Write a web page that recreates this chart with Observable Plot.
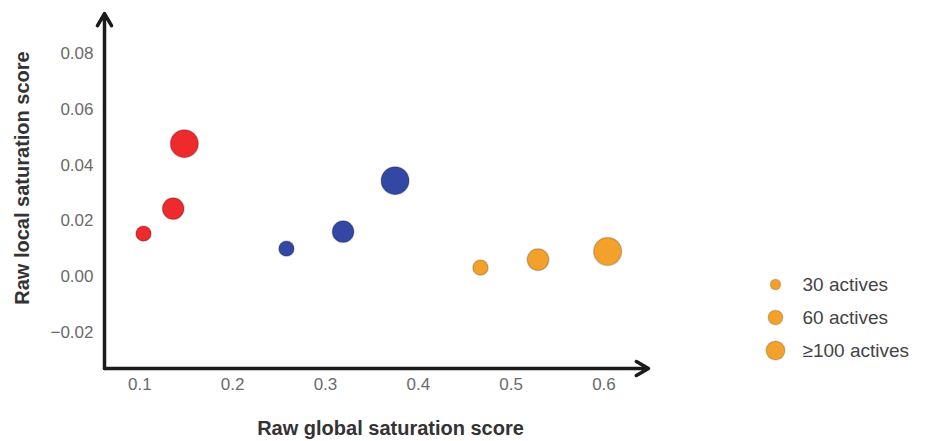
<!DOCTYPE html>
<html><head><meta charset="utf-8">
<script src="https://cdn.jsdelivr.net/npm/d3@7"></script>
<script src="https://cdn.jsdelivr.net/npm/@observablehq/plot@0.6"></script>
<style>
html,body{margin:0;padding:0;background:#fff;}
#chart{position:relative;width:926px;height:441px;font-family:"Liberation Sans",Arial,sans-serif;}
#legend{position:absolute;left:740px;top:265px;}
</style></head><body>
<div id="chart"><div id="main"></div><div id="legend"></div></div>
<script>
// ---- data ----
const groupNames = ["A", "B", "C"];
const fillColors = ["#ee2a2c", "#3347a4", "#f4a12b"];
const pointGroup = ["A", "A", "A", "B", "B", "B", "C", "C", "C"];
const globalScore = [0.104, 0.136, 0.148, 0.258, 0.319, 0.375, 0.467, 0.529, 0.604];
const localScore = [0.0154, 0.0244, 0.0477, 0.0100, 0.0161, 0.0344, 0.0032, 0.0061, 0.0090];
const actives = [30, 60, 100, 30, 60, 100, 30, 60, 100];
const xTicks = [0.1, 0.2, 0.3, 0.4, 0.5, 0.6];
const yTicks = [-0.02, 0, 0.02, 0.04, 0.06, 0.08];
const xDomain = [0.062, 0.648];
const yDomain = [-0.033, 0.0944];
const legendLabels = ["30 actives", "60 actives", "\u2265100 actives"];
const legendActives = [30, 60, 100];
const xTitle = "Raw global saturation score";
const yTitle = "Raw local saturation score";

const points = globalScore.map((g, i) => ({group: pointGroup[i], global: g, local: localScore[i], actives: actives[i]}));
const axesLines = [
  {x1: xDomain[0], y1: yDomain[0], x2: xDomain[1], y2: yDomain[0]},
  {x1: xDomain[0], y1: yDomain[0], x2: xDomain[0], y2: yDomain[1]}
];
const font = "'Liberation Sans', Arial, sans-serif";

const main = Plot.plot({
  width: 926, height: 441,
  marginLeft: 104, marginRight: 278, marginTop: 13, marginBottom: 73,
  style: {fontFamily: font, background: "white"},
  x: {domain: xDomain},
  y: {domain: yDomain},
  r: {type: "sqrt", domain: [0, 100], range: [0, 14]},
  color: {domain: groupNames, range: fillColors},
  marks: [
    Plot.axisX(xTicks, {tickSize: 0, tickPadding: 9, tickFormat: d3.format(".1f"), fontSize: 17, fill: "#6a6a6a", label: null}),
    Plot.axisY(yTicks, {tickSize: 0, tickPadding: 11, tickFormat: d3.format(".2f"), fontSize: 17, fill: "#6a6a6a", label: null}),
    Plot.arrow(axesLines, {x1: "x1", y1: "y1", x2: "x2", y2: "y2", stroke: "#1b1b1b", strokeWidth: 3.5, headLength: 6, headAngle: 60, strokeLinejoin: "miter"}),
    Plot.dot(points, {x: "global", y: "local", r: "actives", fill: "group", stroke: "#000", strokeOpacity: 0.18, strokeWidth: 1.5}),
    Plot.text([xTitle], {frameAnchor: "bottom", dy: 60, dx: 14, lineAnchor: "middle", textAnchor: "middle", text: d => d, fontSize: 20, fontWeight: "bold", fill: "#333"}),
    Plot.text([yTitle], {frameAnchor: "left", dx: -82, dy: -13, rotate: -90, lineAnchor: "middle", textAnchor: "middle", text: d => d, fontSize: 20, fontWeight: "bold", fill: "#333"})
  ]
});
document.getElementById("main").appendChild(main);

const legendData = legendLabels.map((l, i) => ({label: l, actives: legendActives[i]}));
const legend = Plot.plot({
  width: 186, height: 103,
  marginTop: 18, marginBottom: 18, marginLeft: 0, marginRight: 0,
  style: {fontFamily: font, background: "transparent"},
  y: {type: "point", domain: legendLabels, axis: null, padding: 0},
  r: {type: "sqrt", domain: [0, 100], range: [0, 9.5]},
  marks: [
    Plot.dot(legendData, {y: "label", r: "actives", frameAnchor: "left", dx: 35, fill: fillColors[2], stroke: "#000", strokeOpacity: 0.15, strokeWidth: 1.5}),
    Plot.text(legendData, {y: "label", text: "label", frameAnchor: "left", dx: 62, textAnchor: "start", fontSize: 19, fill: "#444"})
  ]
});
document.getElementById("legend").appendChild(legend);
</script>
</body></html>
